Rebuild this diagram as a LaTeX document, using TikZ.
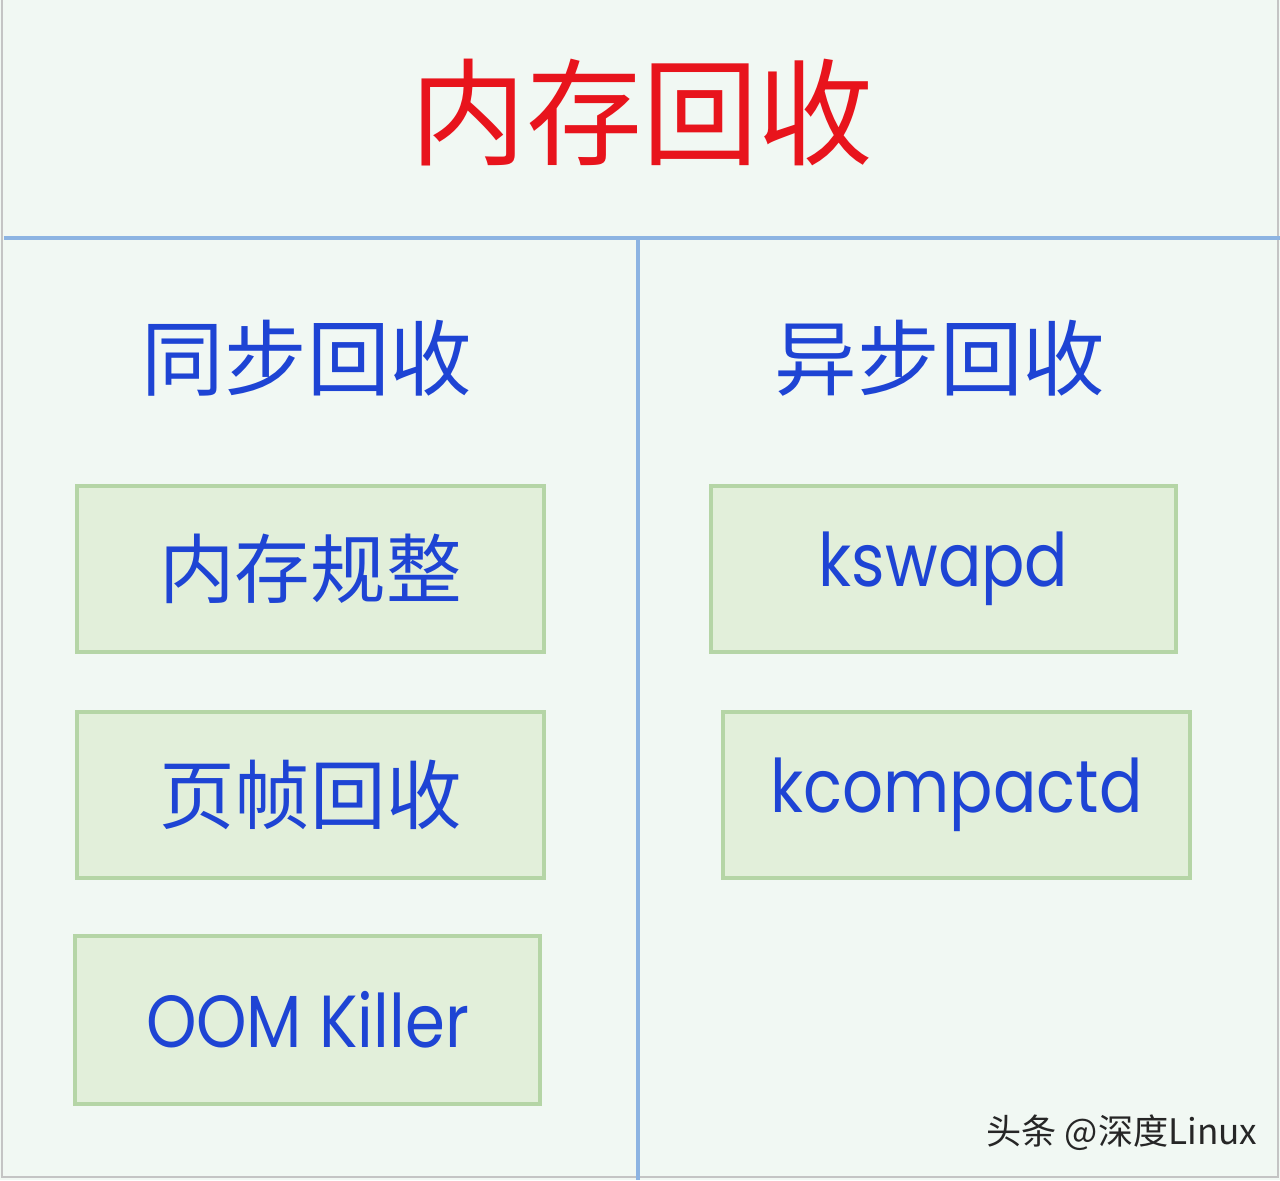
\documentclass[tikz,border=0pt]{standalone}
\usepackage{fontspec}
\setmainfont{Poppins}
\newfontfamily\cjk{Noto Sans CJK SC}
\newfontfamily\narrowsans[FakeStretch=0.87]{Poppins}
\definecolor{bgpale}{HTML}{F1F8F3}
\definecolor{boxfill}{HTML}{E2EFDA}
\definecolor{boxline}{HTML}{B5D5A6}
\definecolor{splitblue}{HTML}{8DB4E2}
\definecolor{titlered}{HTML}{E8141C}
\definecolor{textblue}{HTML}{1E44D4}
\definecolor{edgegray}{HTML}{C4C4C4}
\tikzset{
  stage/.style={rectangle, draw=boxline, fill=boxfill, line width=0.9pt,
    minimum width=4.67cm, minimum height=1.66cm, text=textblue},
  cnlabel/.style={font=\cjk\fontsize{21.5}{24}\selectfont},
  enlabel/.style={font=\narrowsans\fontsize{21}{24}\selectfont},
  divider/.style={splitblue, line width=1.2pt}
}
\begin{document}
\begin{tikzpicture}
% Background and frame
\fill[bgpale] (0, 0) rectangle (12.8, 11.8);
\useasboundingbox (0, 0) rectangle (12.8, 11.8);
\draw[edgegray, line width=0.5pt] (0.02, 11.8) -- (0.02, 0.03) -- (12.78, 0.03) -- (12.78, 11.8);

% Title
\node[text=titlered, font=\cjk\fontsize{33}{36}\selectfont] (title) at (6.42, 10.67) {内存回收};

% Dividers
\coordinate (hl) at (0.04, 9.42);
\coordinate (hr) at (12.8, 9.42);
\coordinate (vt) at (6.38, 9.42);
\coordinate (vb) at (6.38, 0);
\draw[divider] (hl) -- (hr);
\draw[divider] (vt) -- (vb);

% Left: synchronous
\node[text=textblue, font=\cjk\fontsize{23.5}{26}\selectfont] (sync) at (3.07, 8.22) {同步回收};
\node[stage, cnlabel] (compact) at (3.105, 6.11) {内存规整};
\node[stage, cnlabel] (pframe) at (3.105, 3.85) {页帧回收};
\node[stage, enlabel, minimum width=4.65cm, minimum height=1.68cm] (oom) at (3.075, 1.60) {OOM Killer};

% Right: asynchronous
\node[text=textblue, font=\cjk\fontsize{23.5}{26}\selectfont] (async) at (9.40, 8.22) {异步回收};
\node[stage, enlabel, minimum width=4.65cm] (kswapd) at (9.435, 6.11) {kswapd};
\node[stage, enlabel] (kcompactd) at (9.565, 3.85) {kcompactd};

% Watermark
\node[font=\cjk\fontsize{10}{12}\selectfont, text=black!85] (mark) at (11.22, 0.47) {头条 @深度Linux};
\end{tikzpicture}
\end{document}
